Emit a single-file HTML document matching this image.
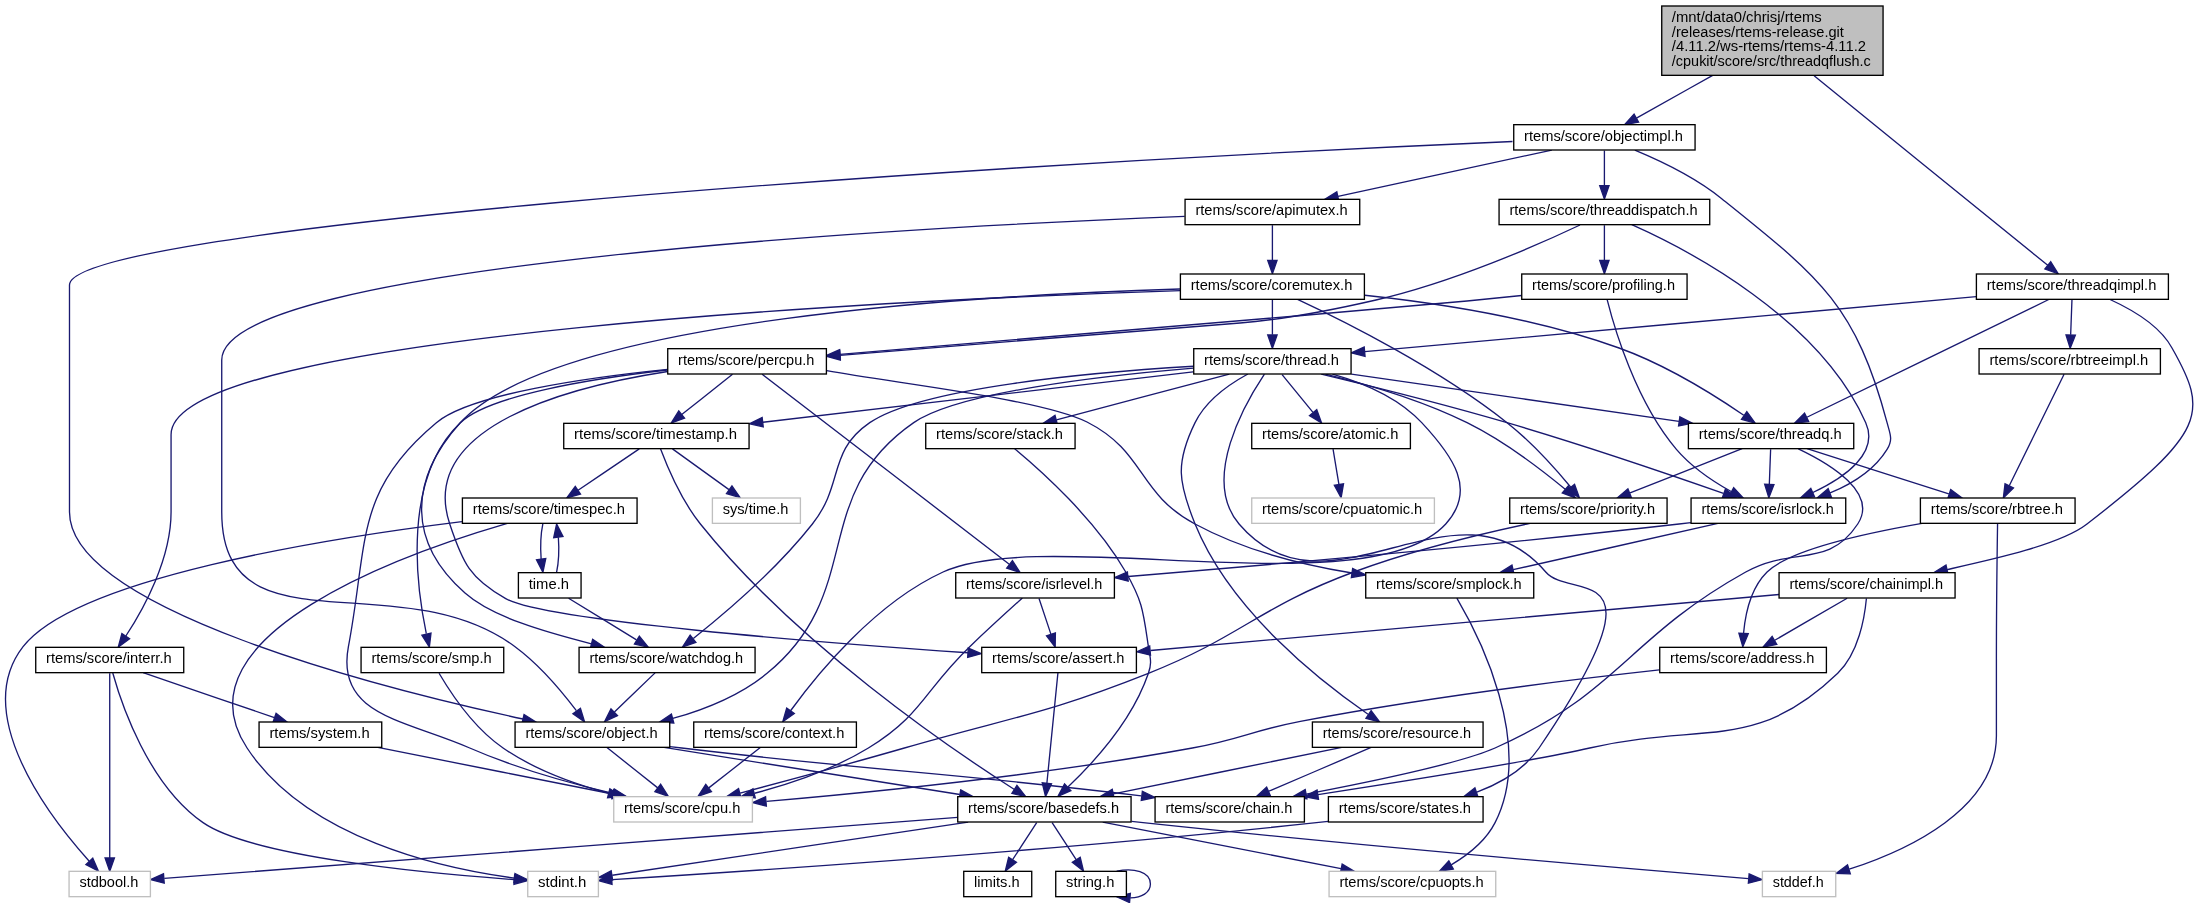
<!DOCTYPE html>
<html><head><meta charset="utf-8"><title>threadqflush.c include graph</title>
<style>html,body{margin:0;padding:0;background:#fff}svg{display:block;will-change:transform}text{font-family:"Liberation Sans",sans-serif;font-size:10.35px;fill:#000}.e{fill:none;stroke:#191970}.a{fill:#191970;stroke:#191970}.n{fill:#fff;stroke:#000}.g{fill:#fff;stroke:#bfbfbf}.r{fill:#bfbfbf;stroke:#000}</style></head><body>
<svg width="2198" height="903" viewBox="0 0 1648.5 677.25">
<rect x="0" y="0" width="1648.5" height="677.25" fill="#fff"/>
<g transform="translate(4 673.46)">
<path class="e" d="M1356.59,-616.59C1404.18,-577.98 1493.31,-505.69 1531.81,-474.46"/><polygon class="a" points="1534.08,-477.13 1539.64,-468.11 1529.67,-471.7"/>
<path class="e" d="M1280.52,-616.91C1261.25,-606.13 1239.48,-593.95 1223.34,-584.91"/><polygon class="a" points="1224.98,-581.82 1214.54,-579.99 1221.56,-587.93"/>
<path class="e" d="M1532.57,-448.83C1493.13,-429.64 1397.94,-383.31 1351.16,-360.54"/><polygon class="a" points="1352.48,-357.29 1341.95,-356.06 1349.41,-363.58"/>
<path class="e" d="M1577.75,-449.21 C1594.25,-441.71 1615.25,-430.46 1625,-412.46 1652.75,-363.71 1650.5,-349.46 1561.25,-280.46 1541,-264.71 1488.5,-253.46 1456.26,-246.26"/><polygon class="a" points="1455.5,-249.68 1446.5,-244.09 1457.02,-242.85"/>
<path class="e" d="M1549.97,-448.55C1549.71,-441.47 1549.33,-431.33 1549,-422.45"/><polygon class="a" points="1552.49,-422.08 1548.63,-412.22 1545.5,-422.34"/>
<path class="e" d="M1478.23,-450.98C1361.86,-440.51 1134.1,-420.01 1019.56,-409.7"/><polygon class="a" points="1019.78,-406.2 1009.51,-408.79 1019.15,-413.18"/>
<path class="e" d="M1344.74,-336.87C1369.07,-325.34 1404.59,-303.65 1389.3,-280.46 1366.94,-246.56 1340.78,-264.24 1305.3,-244.46 1216.13,-194.76 1210.64,-153.84 1117.3,-112.46 1092.31,-101.39 1025.1,-87.31 975.68,-77.87"/><polygon class="a" points="976.21,-74.41 965.73,-75.99 974.91,-81.29"/>
<path class="e" d="M1323.97,-336.55C1323.71,-329.47 1323.33,-319.33 1323,-310.45"/><polygon class="a" points="1326.49,-310.08 1322.63,-300.22 1319.5,-310.34"/>
<path class="e" d="M1302.59,-336.91C1279.95,-327.98 1244.23,-313.9 1218.55,-303.78"/><polygon class="a" points="1219.49,-300.39 1208.91,-299.98 1216.93,-306.9"/>
<path class="e" d="M1351.24,-336.91C1379.96,-327.78 1425.63,-313.28 1457.62,-303.12"/><polygon class="a" points="1459.02,-306.34 1467.49,-299.98 1456.9,-299.67"/>
<path class="e" d="M1264.21,-281.52C1261.2,-281.15 1258.22,-280.8 1255.3,-280.46 1108.51,-263.77 936.1,-248.83 842.1,-241.07"/><polygon class="a" points="842.12,-237.56 831.87,-240.23 841.55,-244.54"/>
<path class="e" d="M1284.43,-280.91C1242.83,-271.51 1175.93,-256.39 1130.83,-246.2"/><polygon class="a" points="1131.52,-242.77 1120.99,-243.98 1129.98,-249.6"/>
<path class="e" d="M762.8,-224.96C752.84,-215.99 736.81,-201.41 723.3,-188.46 688.81,-155.41 688.04,-137.4 647.3,-112.46 621.21,-96.5 588.86,-85.59 561.93,-78.51"/><polygon class="a" points="562.45,-75.04 551.9,-75.99 560.74,-81.82"/>
<path class="e" d="M775.27,-224.55C777.69,-217.31 781.17,-206.87 784.17,-197.86"/><polygon class="a" points="787.54,-198.81 787.38,-188.22 780.9,-196.6"/>
<path class="e" d="M789.44,-168.83C787.66,-151.08 783.57,-110.13 781.16,-86.06"/><polygon class="a" points="784.64,-85.66 780.16,-76.06 777.67,-86.36"/>
<path class="e" d="M823.03,-56.91C871.48,-47.43 949.63,-32.14 1001.72,-21.95"/><polygon class="a" points="1002.63,-25.34 1011.77,-19.98 1001.29,-18.47"/>
<path class="e" d="M714.3,-60.46C571.94,-49.49 236.05,-23.62 119.21,-14.62"/><polygon class="a" points="119.16,-11.1 108.92,-13.82 118.62,-18.08"/>
<path class="e" d="M844.66,-57.41C847.58,-57.08 850.47,-56.77 853.3,-56.46 1022.44,-38.45 1224.77,-21.34 1307.37,-14.55"/><polygon class="a" points="1307.85,-18.02 1317.53,-13.71 1307.28,-11.04"/>
<path class="e" d="M722.1,-56.91C647.3,-45.72 518.39,-26.44 455.28,-17"/><polygon class="a" points="455.42,-13.48 445.01,-15.46 454.38,-20.4"/>
<path class="e" d="M773.52,-56.55C768.63,-49 761.47,-37.96 755.47,-28.69"/><polygon class="a" points="758.35,-26.7 749.97,-20.22 752.48,-30.51"/>
<path class="e" d="M785.08,-56.55C789.97,-49 797.13,-37.96 803.13,-28.69"/><polygon class="a" points="806.13,-30.51 808.63,-20.22 800.25,-26.7"/>
<path class="e" d="M833.51,-20.04C846.33,-22.73 858.8,-19.54 858.8,-10.46 858.8,-3.87 852.22,-0.38 843.7,0"/><polygon class="a" points="843.17,3.47 833.51,-0.89 843.78,-3.51"/>
<path class="e" d="M1088.64,-224.81C1104.34,-198.17 1147.43,-115.56 1117.3,-56.46 1110.3,-42.73 1096.94,-32.21 1084.4,-24.81"/><polygon class="a" points="1085.98,-21.69 1075.52,-19.97 1082.63,-27.83"/>
<path class="e" d="M1143.5,-280.92C1107.41,-273.26 1055.23,-260.72 1011.3,-244.46 939.72,-217.98 928.25,-196.61 857.3,-168.46 778.24,-137.1 756.03,-136.04 674.3,-112.46 632.57,-100.43 584.67,-87.54 551.09,-78.66"/><polygon class="a" points="551.71,-75.2 541.15,-76.03 549.92,-81.97"/>
<path class="e" d="M1494.17,-280.91C1493.9,-262.4 1493.3,-217.28 1493.3,-179.46 1493.3,-179.46 1493.3,-179.46 1493.3,-121.46 1493.3,-66.52 1426.78,-35.81 1382.93,-21.53"/><polygon class="a" points="1383.73,-18.11 1373.14,-18.49 1381.65,-24.8"/>
<path class="e" d="M1437.53,-280.95C1393.68,-273.27 1337.78,-260.68 1321.3,-244.46 1309.19,-232.54 1305.02,-213.23 1303.69,-198.75"/><polygon class="a" points="1307.17,-198.21 1303.13,-188.41 1300.18,-198.59"/>
<path class="e" d="M1240.56,-170.99C1173.56,-163.61 1064.43,-150.22 971.3,-132.46 934.88,-125.52 926.79,-119.09 890.3,-112.46 778.6,-92.18 646.8,-78.99 570.85,-72.42"/><polygon class="a" points="570.77,-68.9 560.51,-71.54 570.17,-75.87"/>
<path class="e" d="M1395.8,-224.55C1394.53,-210.61 1390.06,-183.7 1374.3,-168.46 1312.23,-108.46 1272.38,-132.05 1188.3,-112.46 1150.61,-103.69 1051.57,-87.86 984.51,-77.51"/><polygon class="a" points="984.87,-74.02 974.45,-75.96 983.8,-80.94"/>
<path class="e" d="M1330.3,-227.58C1214.61,-217.27 976.39,-196.05 858.9,-185.58"/><polygon class="a" points="858.87,-182.06 848.6,-184.66 858.25,-189.03"/>
<path class="e" d="M1381.36,-224.79C1366.72,-216.29 1344.17,-203.19 1327.06,-193.26"/><polygon class="a" points="1328.61,-190.11 1318.21,-188.12 1325.1,-196.17"/>
<path class="e" d="M1544.06,-392.83C1535.23,-374.84 1514.7,-333.02 1502.95,-309.09"/><polygon class="a" points="1506.07,-307.49 1498.52,-300.06 1499.78,-310.58"/>
<path class="e" d="M1009.56,-392.91C1076.31,-383.27 1184.65,-367.63 1255.19,-357.44"/><polygon class="a" points="1255.92,-360.87 1265.32,-355.98 1254.92,-353.95"/>
<path class="e" d="M986.91,-392.9C1022.65,-384.34 1078.48,-370.49 1126.3,-356.46 1183.78,-339.61 1249.71,-317.07 1288.58,-303.44"/><polygon class="a" points="1290.06,-306.64 1298.33,-300.02 1287.74,-300.03"/>
<path class="e" d="M990.03,-392.89C1020.15,-385.53 1062.07,-373.41 1096.3,-356.46 1123.96,-342.77 1152.37,-321.02 1169.92,-306.5"/><polygon class="a" points="1172.22,-309.13 1177.61,-300.01 1167.71,-303.78"/>
<path class="e" d="M957.57,-392.55C963.85,-384.84 973.09,-373.5 980.73,-364.12"/><polygon class="a" points="983.57,-366.18 987.17,-356.22 978.14,-361.76"/>
<path class="e" d="M995.36,-392.92C1018.19,-386.45 1044.73,-375.33 1062.3,-356.46 1085.96,-331.06 1103.65,-306.15 1080.3,-280.46 1023.69,-218.19 779.79,-279.56 703.3,-244.46 652.04,-220.94 608.76,-167.74 588.92,-140.39"/><polygon class="a" points="591.75,-138.33 583.11,-132.19 586.03,-142.37"/>
<path class="e" d="M891.15,-397.4C822.51,-391.69 714.49,-379.34 681.3,-356.46 601.6,-301.52 646.2,-229.8 571.3,-168.46 551.11,-151.93 524.49,-141.32 500.52,-134.6"/><polygon class="a" points="501.35,-131.19 490.79,-132.03 499.56,-137.96"/>
<path class="e" d="M931.91,-392.94C918.2,-385.46 900.49,-373.18 892.3,-356.46 877.44,-326.13 879.63,-311.78 892.3,-280.46 918.7,-215.26 986.6,-162.14 1022.03,-137.81"/><polygon class="a" points="1024.35,-140.47 1030.7,-131.99 1020.45,-134.66"/>
<path class="e" d="M917.98,-392.91C882.91,-383.63 826.8,-368.77 788.34,-358.59"/><polygon class="a" points="789.04,-355.16 778.47,-355.98 787.25,-361.92"/>
<path class="e" d="M944.32,-392.95C929.94,-371.37 896.71,-313.88 925.3,-280.46 992.57,-201.85 1088.03,-323.08 1155.3,-244.46 1174.27,-222.29 1249.59,-258.76 1150.3,-112.46 1139.43,-96.45 1121.42,-86.06 1103.66,-79.35"/><polygon class="a" points="1104.46,-75.92 1093.86,-75.99 1102.19,-82.54"/>
<path class="e" d="M890.85,-394.52C808.63,-384.91 660,-367.53 568.16,-356.8"/><polygon class="a" points="568.42,-353.31 558.08,-355.62 567.61,-360.26"/>
<path class="e" d="M891.2,-398.75C814.71,-394.21 686.7,-382.84 648.3,-356.46 616.31,-334.49 629.38,-310.9 605.3,-280.46 578.2,-246.19 539.25,-213.06 515.99,-194.56"/><polygon class="a" points="517.93,-191.64 507.9,-188.22 513.61,-197.14"/>
<path class="e" d="M995.79,-336.55C996.98,-329.39 998.7,-319.1 1000.19,-310.16"/><polygon class="a" points="1003.65,-310.66 1001.84,-300.22 996.75,-309.5"/>
<path class="e" d="M566.22,-112.79C555.82,-104.65 540.04,-92.3 527.58,-82.55"/><polygon class="a" points="529.62,-79.71 519.59,-76.3 525.31,-85.22"/>
<path class="e" d="M498.39,-113.55C501.4,-113.18 504.39,-112.81 507.3,-112.46 657.52,-94.56 698.09,-95.04 851.99,-76.59"/><polygon class="a" points="852.79,-80.02 862.3,-75.34 851.95,-73.07"/>
<path class="e" d="M451.23,-112.79C461.48,-104.65 477.02,-92.3 489.3,-82.55"/><polygon class="a" points="491.52,-85.26 497.18,-76.3 487.17,-79.78"/>
<path class="e" d="M494.02,-112.91C554.27,-103.31 651.92,-87.76 715.87,-77.57"/><polygon class="a" points="716.51,-81.01 725.84,-75.98 715.41,-74.1"/>
<path class="e" d="M1024.34,-112.91C1003.69,-104.06 971.24,-90.15 947.67,-80.05"/><polygon class="a" points="948.74,-76.7 938.17,-75.98 945.99,-83.14"/>
<path class="e" d="M1002.31,-112.91C955.89,-103.45 881.07,-88.2 831.06,-78.01"/><polygon class="a" points="831.59,-74.55 821.09,-75.98 830.19,-81.41"/>
<path class="e" d="M756.99,-336.91C776.39,-320.83 817.48,-284.12 840.3,-244.46 853.27,-221.92 853.48,-214.19 857.3,-188.46 858.61,-179.67 860.17,-176.88 857.3,-168.46 845.41,-133.61 816.07,-101.43 796.95,-83.15"/><polygon class="a" points="799.18,-80.44 789.47,-76.2 794.42,-85.57"/>
<path class="e" d="M992.22,-57.47C989.21,-57.11 986.22,-56.78 983.3,-56.46 784.45,-35.21 545.23,-19.34 455.07,-13.7"/><polygon class="a" points="455.02,-10.19 444.82,-13.07 454.59,-17.18"/>
<path class="e" d="M491.37,-336.82C496.3,-323.71 506.9,-298.44 521.3,-280.46 593.27,-190.59 708.47,-112.19 756.81,-81.38"/><polygon class="a" points="758.7,-84.33 765.29,-76.03 754.96,-78.41"/>
<path class="e" d="M500.35,-336.79C511.76,-328.57 529.13,-316.07 542.74,-306.27"/><polygon class="a" points="544.96,-308.98 551.03,-300.3 540.87,-303.3"/>
<path class="e" d="M475.45,-336.79C463.08,-328.44 444.17,-315.68 429.56,-305.82"/><polygon class="a" points="431.37,-302.81 421.12,-300.12 427.45,-308.62"/>
<path class="e" d="M342.45,-282.3C240.84,-269.74 53.35,-240.04 13.3,-188.46 -26.12,-137.69 33.17,-60.67 62.94,-27.54"/><polygon class="a" points="65.59,-29.83 69.8,-20.11 60.44,-25.09"/>
<path class="e" d="M376.5,-280.89C301.75,-259.11 125.23,-197.31 181.3,-112.46 226.24,-44.46 327.32,-22.09 381.82,-14.85"/><polygon class="a" points="382.25,-18.32 391.75,-13.63 381.4,-11.38"/>
<path class="e" d="M403.13,-280.55C401.63,-273.39 401.2,-263.1 401.84,-254.16"/><polygon class="a" points="405.32,-254.59 403.17,-244.22 398.38,-253.67"/>
<path class="e" d="M413.43,-244.22C414.96,-251.32 415.41,-261.6 414.77,-270.57"/><polygon class="a" points="411.29,-270.18 413.47,-280.55 418.24,-271.09"/>
<path class="e" d="M422.44,-224.79C436.17,-216.37 457.24,-203.44 473.37,-193.54"/><polygon class="a" points="475.51,-196.33 482.2,-188.12 471.84,-190.37"/>
<path class="e" d="M487.3,-168.79C479.11,-160.88 466.8,-149.01 456.83,-139.4"/><polygon class="a" points="459.09,-136.72 449.46,-132.3 454.23,-141.76"/>
<path class="e" d="M1222.13,-560.86C1240.84,-553.11 1267.39,-540.5 1287.3,-524.46 1359.58,-466.26 1387.48,-446.16 1411.3,-356.46 1413.58,-347.87 1415.96,-344.04 1411.3,-336.46 1401.75,-320.93 1384.99,-310.56 1368.57,-303.74"/><polygon class="a" points="1369.6,-300.38 1359,-300.12 1367.12,-306.93"/>
<path class="e" d="M1130.38,-567.34 C648.28,-546.56 48.12,-500.44 48.12,-459.71 48.12,-459.71 48.12,-459.71 48.12,-289.46 48.12,-216.71 281,-157.46 388.25,-134.21"/><polygon class="a" points="387.46,-130.8 398,-131.96 389.04,-137.62"/>
<path class="e" d="M1159.85,-560.91C1116.41,-551.49 1046.51,-536.33 999.53,-526.14"/><polygon class="a" points="1000.09,-522.68 989.57,-523.98 998.6,-529.52"/>
<path class="e" d="M1199.3,-560.55C1199.3,-553.47 1199.3,-543.33 1199.3,-534.45"/><polygon class="a" points="1202.8,-534.22 1199.3,-524.22 1195.8,-534.22"/>
<path class="e" d="M884.47,-511.16C695.08,-503.68 162.3,-476.16 162.3,-403.46 162.3,-403.46 162.3,-403.46 162.3,-289.46 162.3,-181.88 295.77,-252.4 382.3,-188.46 400.66,-174.9 417.53,-154.73 428.29,-140.47"/><polygon class="a" points="431.35,-142.21 434.43,-132.07 425.7,-138.08"/>
<path class="e" d="M950.3,-504.55C950.3,-497.47 950.3,-487.33 950.3,-478.45"/><polygon class="a" points="953.8,-478.22 950.3,-468.22 946.8,-478.22"/>
<path class="e" d="M1019.57,-452.05C1072.94,-446.33 1147.89,-434.88 1210.3,-412.46 1245.2,-399.93 1281.8,-377.06 1303.83,-362.07"/><polygon class="a" points="1306.11,-364.75 1312.34,-356.17 1302.12,-358.99"/>
<path class="e" d="M969.16,-448.94C1002.66,-433.32 1073.93,-397.87 1126.3,-356.46 1144.6,-342 1162.49,-322.04 1174.12,-308.06"/><polygon class="a" points="1176.89,-310.2 1180.5,-300.24 1171.46,-305.78"/>
<path class="e" d="M950.3,-448.55C950.3,-441.47 950.3,-431.33 950.3,-422.45"/><polygon class="a" points="953.8,-422.22 950.3,-412.22 946.8,-422.22"/>
<path class="e" d="M881,-456.71 C737,-452.21 412.25,-434.96 341,-356.21 302,-312.71 302,-266.21 344.75,-228.71 365,-210.71 404.75,-199.46 439.61,-190.54"/><polygon class="a" points="438.74,-187.15 449.3,-188.06 440.48,-193.93"/>
<path class="e" d="M881.3,-455.49C682.78,-448.9 124.3,-423.6 124.3,-347.46 124.3,-347.46 124.3,-347.46 124.3,-289.46 124.3,-254.28 104.02,-217.33 90.39,-196.46"/><polygon class="a" points="93.21,-194.38 84.7,-188.07 87.42,-198.31"/>
<path class="e" d="M78.3,-168.54C78.3,-142.41 78.3,-65.68 78.3,-30.04"/><polygon class="a" points="81.8,-30.03 78.3,-20.03 74.8,-30.03"/>
<path class="e" d="M80.57,-168.68C86.92,-145.93 107.2,-84.93 148.3,-56.46 185.49,-30.71 316.72,-18.37 381.53,-13.74"/><polygon class="a" points="381.97,-17.22 391.71,-13.04 381.49,-10.24"/>
<path class="e" d="M103.34,-168.91C129.92,-159.82 172.11,-145.4 201.82,-135.25"/><polygon class="a" points="203.05,-138.53 211.38,-131.98 200.79,-131.9"/>
<path class="e" d="M279.4,-112.91C327.15,-103.43 404.16,-88.14 455.5,-77.95"/><polygon class="a" points="456.28,-81.36 465.4,-75.98 454.91,-74.5"/>
<path class="e" d="M1219.83,-504.93C1262.59,-485.84 1360.18,-435.08 1395.3,-356.46 1405.57,-333.49 1379.44,-315.32 1355.63,-304.1"/><polygon class="a" points="1356.93,-300.84 1346.37,-300 1354.1,-307.24"/>
<path class="e" d="M1181,-504.71 C1151,-490.46 1086.5,-461.96 1028,-448.46 1001,-442.24 963.5,-434.21 926,-431.21 826.25,-423.19 725.75,-415.16 626,-406.91"/><polygon class="a" points="625.74,-410.4 616.03,-406.16 626.26,-403.42"/>
<path class="e" d="M1199.3,-504.55C1199.3,-497.47 1199.3,-487.33 1199.3,-478.45"/><polygon class="a" points="1202.8,-478.22 1199.3,-468.22 1195.8,-478.22"/>
<path class="e" d="M567.61,-392.77C602.53,-365.94 708.94,-284.16 752.94,-250.34"/><polygon class="a" points="755.31,-252.94 761.1,-244.07 751.04,-247.39"/>
<path class="e" d="M496.62,-396.46C436.52,-390.31 349.12,-377.93 323.3,-356.46 261.62,-305.18 272.23,-267.29 257.3,-188.46 247.5,-136.69 300.04,-133.61 348.3,-112.46 382.88,-97.31 423.91,-85.9 455.76,-78.35"/><polygon class="a" points="456.81,-81.7 465.76,-76.04 455.23,-74.88"/>
<path class="e" d="M496.77,-394.85C422.73,-383.45 308.86,-353.8 333.3,-280.46 343.14,-250.95 348.27,-239.86 375.3,-224.46 404.69,-207.73 611.88,-191.47 721.95,-183.9"/><polygon class="a" points="722.22,-187.39 731.96,-183.21 721.75,-180.4"/>
<path class="e" d="M616.03,-395.44 C671,-385.46 776,-374.21 811.25,-356.96 855.5,-334.46 848.75,-303.71 892.25,-280.46 928.25,-260.96 973.25,-249.71 1010,-243.71"/><polygon class="a" points="1009.51,-240.25 1020.5,-242.21 1010.49,-247.17"/>
<path class="e" d="M545.38,-392.79C535.13,-384.65 519.58,-372.3 507.3,-362.55"/><polygon class="a" points="509.43,-359.78 499.43,-356.3 505.08,-365.26"/>
<path class="e" d="M496.58,-395.95C440.93,-389.61 363.32,-377.3 341.3,-356.46 297.69,-315.21 308.12,-234.83 315.73,-198.32"/><polygon class="a" points="319.24,-198.64 318.03,-188.11 312.41,-197.1"/>
<path class="e" d="M325.29,-168.54C333.52,-154.61 351.25,-127.69 373.3,-112.46 396.81,-96.23 426.63,-85.48 452.26,-78.57"/><polygon class="a" points="453.4,-81.89 462.22,-76.02 451.67,-75.11"/>
<path class="e" d="M1201.31,-448.93C1206.64,-427.8 1222.84,-372.17 1253.3,-336.46 1264.54,-323.29 1280.58,-312.52 1294.37,-304.81"/><polygon class="a" points="1296.27,-307.76 1303.46,-299.98 1292.99,-301.58"/>
<path class="e" d="M1137.28,-451.84 C1123.25,-450.49 1109,-448.99 1096.25,-447.71 927.5,-432.71 728.75,-415.84 626,-407.74"/><polygon class="a" points="625.74,-411.23 616.03,-406.99 626.26,-404.24"/>
<rect class="r" x="1242.3" y="-668.96" width="166" height="52"/>
<text x="1249.9" y="-657.06" textLength="112.4" lengthAdjust="spacingAndGlyphs">/mnt/data0/chrisj/rtems</text>
<text x="1249.9" y="-646.06" textLength="129" lengthAdjust="spacingAndGlyphs">/releases/rtems-release.git</text>
<text x="1249.9" y="-635.06" textLength="145.6" lengthAdjust="spacingAndGlyphs">/4.11.2/ws-rtems/rtems-4.11.2</text>
<text x="1249.9" y="-624.06" textLength="149.2" lengthAdjust="spacingAndGlyphs">/cpukit/score/src/threadqflush.c</text>
<rect class="n" x="1478.3" y="-467.96" width="144" height="19"/>
<text x="1486.05" y="-456.06" textLength="127.2" lengthAdjust="spacingAndGlyphs">rtems/score/threadqimpl.h</text>
<rect class="n" x="1131.3" y="-579.96" width="136" height="19"/>
<text x="1139.05" y="-568.06" textLength="119.2" lengthAdjust="spacingAndGlyphs">rtems/score/objectimpl.h</text>
<rect class="n" x="1262.3" y="-355.96" width="124" height="19"/>
<text x="1270.05" y="-344.06" textLength="107.2" lengthAdjust="spacingAndGlyphs">rtems/score/threadq.h</text>
<rect class="n" x="1330.3" y="-243.96" width="132" height="19"/>
<text x="1338.05" y="-232.06" textLength="115.2" lengthAdjust="spacingAndGlyphs">rtems/score/chainimpl.h</text>
<rect class="n" x="1480.3" y="-411.96" width="136" height="19"/>
<text x="1488.05" y="-400.06" textLength="119.2" lengthAdjust="spacingAndGlyphs">rtems/score/rbtreeimpl.h</text>
<rect class="n" x="891.3" y="-411.96" width="118" height="19"/>
<text x="899.05" y="-400.06" textLength="101.2" lengthAdjust="spacingAndGlyphs">rtems/score/thread.h</text>
<rect class="n" x="862.3" y="-75.96" width="112" height="19"/>
<text x="870.05" y="-64.06" textLength="95.2" lengthAdjust="spacingAndGlyphs">rtems/score/chain.h</text>
<rect class="n" x="1264.3" y="-299.96" width="116" height="19"/>
<text x="1272.05" y="-288.06" textLength="99.2" lengthAdjust="spacingAndGlyphs">rtems/score/isrlock.h</text>
<rect class="n" x="1128.3" y="-299.96" width="118" height="19"/>
<text x="1136.05" y="-288.06" textLength="101.2" lengthAdjust="spacingAndGlyphs">rtems/score/priority.h</text>
<rect class="n" x="1436.3" y="-299.96" width="116" height="19"/>
<text x="1444.05" y="-288.06" textLength="99.2" lengthAdjust="spacingAndGlyphs">rtems/score/rbtree.h</text>
<rect class="n" x="712.8" y="-243.96" width="119" height="19"/>
<text x="720.55" y="-232.06" textLength="102.2" lengthAdjust="spacingAndGlyphs">rtems/score/isrlevel.h</text>
<rect class="n" x="1020.3" y="-243.96" width="126" height="19"/>
<text x="1028.05" y="-232.06" textLength="109.2" lengthAdjust="spacingAndGlyphs">rtems/score/smplock.h</text>
<rect class="g" x="456.3" y="-75.96" width="104" height="19"/>
<text x="464.05" y="-64.06" textLength="87.2" lengthAdjust="spacingAndGlyphs">rtems/score/cpu.h</text>
<rect class="n" x="732.3" y="-187.96" width="116" height="19"/>
<text x="740.05" y="-176.06" textLength="99.2" lengthAdjust="spacingAndGlyphs">rtems/score/assert.h</text>
<rect class="n" x="714.3" y="-75.96" width="130" height="19"/>
<text x="722.05" y="-64.06" textLength="113.2" lengthAdjust="spacingAndGlyphs">rtems/score/basedefs.h</text>
<rect class="g" x="992.8" y="-19.96" width="125" height="19"/>
<text x="1000.55" y="-8.06" textLength="108.2" lengthAdjust="spacingAndGlyphs">rtems/score/cpuopts.h</text>
<rect class="g" x="47.8" y="-19.96" width="61" height="19"/>
<text x="55.55" y="-8.06" textLength="44.2" lengthAdjust="spacingAndGlyphs">stdbool.h</text>
<rect class="g" x="1317.8" y="-19.96" width="55" height="19"/>
<text x="1325.55" y="-8.06" textLength="38.2" lengthAdjust="spacingAndGlyphs">stddef.h</text>
<rect class="g" x="391.8" y="-19.96" width="53" height="19"/>
<text x="399.55" y="-8.06" textLength="36.2" lengthAdjust="spacingAndGlyphs">stdint.h</text>
<rect class="n" x="718.8" y="-19.96" width="51" height="19"/>
<text x="726.55" y="-8.06" textLength="34.2" lengthAdjust="spacingAndGlyphs">limits.h</text>
<rect class="n" x="787.8" y="-19.96" width="53" height="19"/>
<text x="795.55" y="-8.06" textLength="36.2" lengthAdjust="spacingAndGlyphs">string.h</text>
<rect class="n" x="1240.8" y="-187.96" width="125" height="19"/>
<text x="1248.55" y="-176.06" textLength="108.2" lengthAdjust="spacingAndGlyphs">rtems/score/address.h</text>
<rect class="n" x="934.8" y="-355.96" width="119" height="19"/>
<text x="942.55" y="-344.06" textLength="102.2" lengthAdjust="spacingAndGlyphs">rtems/score/atomic.h</text>
<rect class="n" x="516.3" y="-131.96" width="122" height="19"/>
<text x="524.05" y="-120.06" textLength="105.2" lengthAdjust="spacingAndGlyphs">rtems/score/context.h</text>
<rect class="n" x="382.3" y="-131.96" width="116" height="19"/>
<text x="390.05" y="-120.06" textLength="99.2" lengthAdjust="spacingAndGlyphs">rtems/score/object.h</text>
<rect class="n" x="980.3" y="-131.96" width="128" height="19"/>
<text x="988.05" y="-120.06" textLength="111.2" lengthAdjust="spacingAndGlyphs">rtems/score/resource.h</text>
<rect class="n" x="690.3" y="-355.96" width="112" height="19"/>
<text x="698.05" y="-344.06" textLength="95.2" lengthAdjust="spacingAndGlyphs">rtems/score/stack.h</text>
<rect class="n" x="992.3" y="-75.96" width="116" height="19"/>
<text x="1000.05" y="-64.06" textLength="99.2" lengthAdjust="spacingAndGlyphs">rtems/score/states.h</text>
<rect class="n" x="418.8" y="-355.96" width="139" height="19"/>
<text x="426.55" y="-344.06" textLength="122.2" lengthAdjust="spacingAndGlyphs">rtems/score/timestamp.h</text>
<rect class="n" x="430.3" y="-187.96" width="132" height="19"/>
<text x="438.05" y="-176.06" textLength="115.2" lengthAdjust="spacingAndGlyphs">rtems/score/watchdog.h</text>
<rect class="g" x="934.8" y="-299.96" width="137" height="19"/>
<text x="942.55" y="-288.06" textLength="120.2" lengthAdjust="spacingAndGlyphs">rtems/score/cpuatomic.h</text>
<rect class="g" x="530.3" y="-299.96" width="66" height="19"/>
<text x="538.05" y="-288.06" textLength="49.2" lengthAdjust="spacingAndGlyphs">sys/time.h</text>
<rect class="n" x="342.8" y="-299.96" width="131" height="19"/>
<text x="350.55" y="-288.06" textLength="114.2" lengthAdjust="spacingAndGlyphs">rtems/score/timespec.h</text>
<rect class="n" x="384.8" y="-243.96" width="47" height="19"/>
<text x="392.55" y="-232.06" textLength="30.2" lengthAdjust="spacingAndGlyphs">time.h</text>
<rect class="n" x="884.8" y="-523.96" width="131" height="19"/>
<text x="892.55" y="-512.06" textLength="114.2" lengthAdjust="spacingAndGlyphs">rtems/score/apimutex.h</text>
<rect class="n" x="1120.3" y="-523.96" width="158" height="19"/>
<text x="1128.05" y="-512.06" textLength="141.2" lengthAdjust="spacingAndGlyphs">rtems/score/threaddispatch.h</text>
<rect class="n" x="881.3" y="-467.96" width="138" height="19"/>
<text x="889.05" y="-456.06" textLength="121.2" lengthAdjust="spacingAndGlyphs">rtems/score/coremutex.h</text>
<rect class="n" x="22.8" y="-187.96" width="111" height="19"/>
<text x="30.55" y="-176.06" textLength="94.2" lengthAdjust="spacingAndGlyphs">rtems/score/interr.h</text>
<rect class="n" x="190.3" y="-131.96" width="92" height="19"/>
<text x="198.05" y="-120.06" textLength="75.2" lengthAdjust="spacingAndGlyphs">rtems/system.h</text>
<rect class="n" x="496.8" y="-411.96" width="119" height="19"/>
<text x="504.55" y="-400.06" textLength="102.2" lengthAdjust="spacingAndGlyphs">rtems/score/percpu.h</text>
<rect class="n" x="1137.3" y="-467.96" width="124" height="19"/>
<text x="1145.05" y="-456.06" textLength="107.2" lengthAdjust="spacingAndGlyphs">rtems/score/profiling.h</text>
<rect class="n" x="266.8" y="-187.96" width="107" height="19"/>
<text x="274.55" y="-176.06" textLength="90.2" lengthAdjust="spacingAndGlyphs">rtems/score/smp.h</text>
</g></svg></body></html>
